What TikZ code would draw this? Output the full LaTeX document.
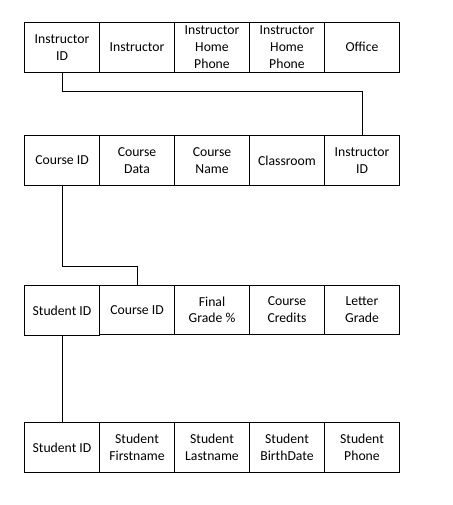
\documentclass[tikz,border=0pt]{standalone}
\usepackage{fontspec}
\setmainfont{Carlito}
\usetikzlibrary{positioning}

\begin{document}
\begin{tikzpicture}[x=1pt,y=-1pt,node distance=75pt,line width=1pt]
  \tikzstyle{field}=[draw,minimum width=75pt,minimum height=50pt,inner sep=0pt,outer sep=0pt,align=center,font=\fontsize{13.7}{16.7}\selectfont]
  \tikzstyle{gradefield}=[field,minimum height=49pt]

  \useasboundingbox (0,0) rectangle (452,505);

  % instructor table
  \node[field]         (I1) at (62,47.3)  {Instructor\\ID};
  \node[field]         (I2) [right of=I1] {Instructor};
  \node[field]         (I3) [right of=I2] {Instructor\\Home\\Phone};
  \node[field]         (I4) [right of=I3] {Instructor\\Home\\Phone};
  \node[field]         (I5) [right of=I4] {Office};

  % course table
  \node[field]         (C1) at (62,160.3) {Course ID};
  \node[field]         (C2) [right of=C1] {Course\\Data};
  \node[field]         (C3) [right of=C2] {Course\\Name};
  \node[field]         (C4) [right of=C3] {Classroom};
  \node[field]         (C5) [right of=C4] {Instructor\\ID};

  % grade table
  \node[field]         (G1) at (62,310.3) {Student ID};
  \node[gradefield,yshift=0.5pt] (G2) [right of=G1] {Course ID};
  \node[gradefield]    (G3) [right of=G2] {Final\\Grade \%};
  \node[gradefield]    (G4) [right of=G3] {Course\\Credits};
  \node[gradefield]    (G5) [right of=G4] {Letter\\Grade};

  % student table
  \node[field]         (S1) at (62,447.3) {Student ID};
  \node[field]         (S2) [right of=S1] {Student\\Firstname};
  \node[field]         (S3) [right of=S2] {Student\\Lastname};
  \node[field]         (S4) [right of=S3] {Student\\BirthDate};
  \node[field]         (S5) [right of=S4] {Student\\Phone};

  \draw (I1.south) -- ++(0,19) -| (C5.north);
  \draw (C1.south) -- ++(0,81) -| (G2.north);
  \draw (G1.south) -- (S1.north);
\end{tikzpicture}
\end{document}
